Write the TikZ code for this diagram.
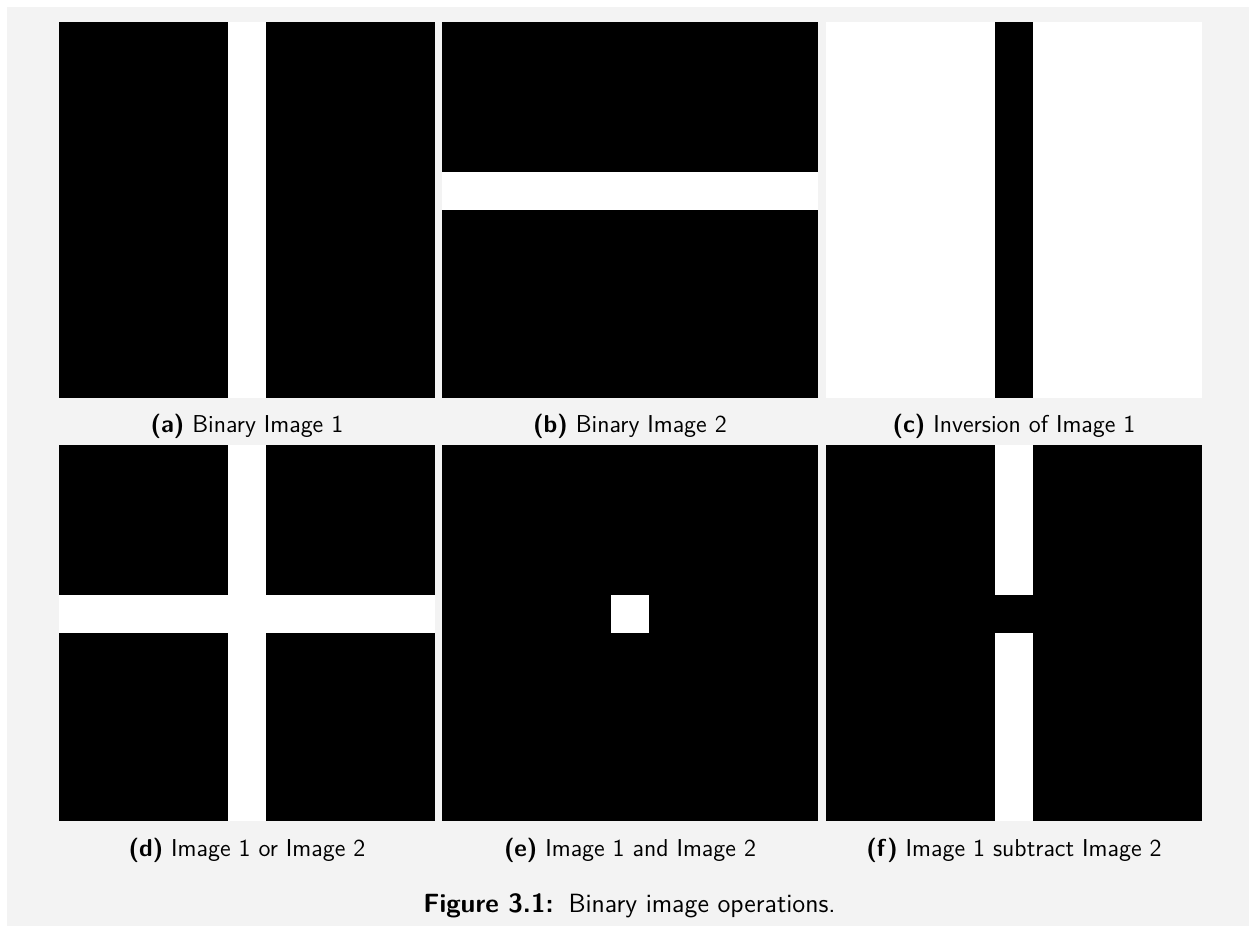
\documentclass[tikz,border=0pt]{standalone}
\usepackage{tikz}
\usetikzlibrary{positioning, calc}
\definecolor{cPage}{RGB}{243,243,243}
\tikzset{
	panel/.style={rectangle, draw=none, fill=black, minimum size=7.52cm, inner sep=0pt, outer sep=0pt},
	capt/.style ={font=\sffamily\fontsize{13.9}{16}\selectfont, anchor=base, inner sep=0pt},
	figcapt/.style={font=\sffamily\fontsize{15}{18}\selectfont, anchor=base, inner sep=0pt},
	hole/.style ={fill=white},
	plug/.style ={fill=black},
}

\begin{document}
\begin{tikzpicture}[x=0.02cm, y=0.02cm]
	\useasboundingbox (0,0) rectangle (1249,926);
	\fill[cPage] (7,0) rectangle (1249,919);
	% top row: the two inputs and the inversion
	\node[panel] (imA) at (247,716) {};
	\node[panel] (imB) at (630,716) {};
	\node[panel, fill=white] (imC) at (1014,716) {};
	\fill[hole] ($(imA.north west)+(169.2,0)$) rectangle ($(imA.south west)+(206.8,0)$);
	\fill[hole] ($(imB.north west)+(0,-150.4)$) rectangle ($(imB.north east)+(0,-188)$);
	\fill[plug] ($(imC.north west)+(169.2,0)$) rectangle ($(imC.south west)+(206.8,0)$);
	% bottom row: or, and, subtract
	\node[panel] (imD) at (247,293) {};
	\node[panel] (imE) at (630,293) {};
	\node[panel] (imF) at (1014,293) {};
	\fill[hole] ($(imD.north west)+(169.2,0)$) rectangle ($(imD.south west)+(206.8,0)$);
	\fill[hole] ($(imD.north west)+(0,-150.4)$) rectangle ($(imD.north east)+(0,-188)$);
	\fill[hole] ($(imE.north west)+(169.2,-150.4)$) rectangle ($(imE.north west)+(206.8,-188)$);
	\fill[hole] ($(imF.north west)+(169.2,0)$) rectangle ($(imF.south west)+(206.8,0)$);
	\fill[plug] ($(imF.north west)+(169.2,-150.4)$) rectangle ($(imF.north west)+(206.8,-188)$);
	% sub-captions
	\node[capt] (capA) at ($(imA.south)+(0,-35)$) {\textbf{(a)} Binary Image 1};
	\node[capt] (capB) at ($(imB.south)+(0,-35)$) {\textbf{(b)} Binary Image 2};
	\node[capt] (capC) at ($(imC.south)+(0,-35)$) {\textbf{(c)} Inversion of Image 1};
	\node[capt] (capD) at ($(imD.south)+(0,-36)$) {\textbf{(d)} Image 1 or Image 2};
	\node[capt] (capE) at ($(imE.south)+(0,-36)$) {\textbf{(e)} Image 1 and Image 2};
	\node[capt] (capF) at ($(imF.south)+(0,-36)$) {\textbf{(f)} Image 1 subtract Image 2};
	\node[figcapt] (figcap) at (629.5,13) {\textbf{Figure 3.1:}\hspace{8.5pt}Binary image operations.};
\end{tikzpicture}
\end{document}
